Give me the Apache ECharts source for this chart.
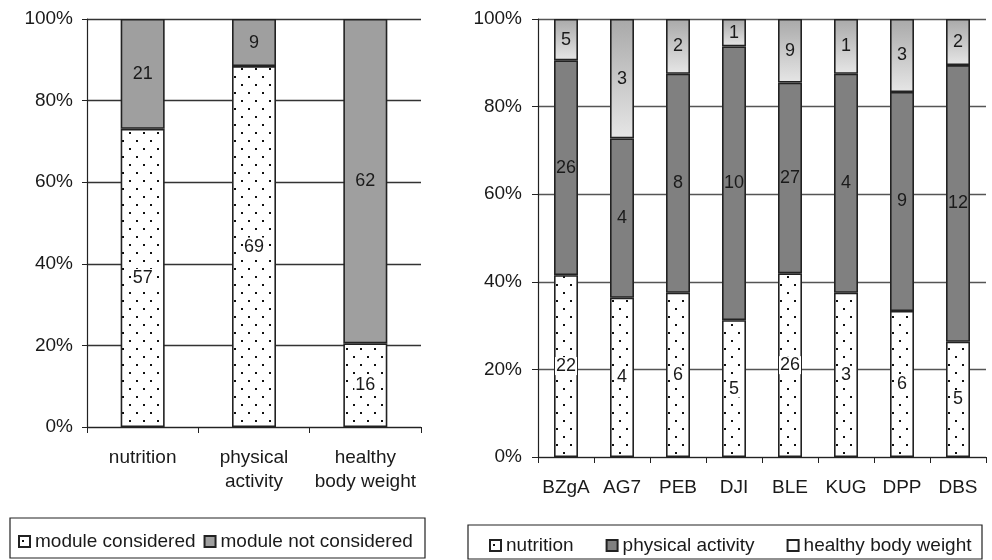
<!DOCTYPE html>
<html>
<head>
<meta charset="utf-8">
<script src="https://cdn.jsdelivr.net/npm/echarts@6/dist/echarts.min.js"></script>
<style>
html,body{margin:0;padding:0;background:#fff;}
#chart{width:992px;height:560px;}
</style>
</head>
<body>
<div id="chart"></div>
<script>
// ---- data ----
const leftCategories = ['nutrition', 'physical\nactivity', 'healthy\nbody weight'];
const moduleConsidered = [57, 69, 16];
const moduleNotConsidered = [21, 9, 62];

const rightCategories = ['BZgA', 'AG7', 'PEB', 'DJI', 'BLE', 'KUG', 'DPP', 'DBS'];
const nutrition = [22, 4, 6, 5, 26, 3, 6, 5];
const physicalActivity = [26, 4, 8, 10, 27, 4, 9, 12];
const healthyBodyWeight = [5, 3, 2, 1, 9, 1, 3, 2];

const yTicks = [0, 20, 40, 60, 80, 100];

// ---- helpers ----
function toShares(groups) {
  return groups.map(g => g.map((c, i) => {
    let total = 0;
    groups.forEach(gg => total += gg[i]);
    return { value: c / total * 100, count: c };
  }));
}

function dotPattern() {
  const c = document.createElement('canvas');
  c.width = 14; c.height = 16;
  const ctx = c.getContext('2d');
  ctx.fillStyle = '#ffffff';
  ctx.fillRect(0, 0, 14, 16);
  ctx.fillStyle = '#111111';
  ctx.fillRect(3, 4, 2, 2);
  ctx.fillRect(10, 12, 2, 2);
  return c;
}
const dots = { image: dotPattern(), repeat: 'repeat' };

const leftShares = toShares([moduleConsidered, moduleNotConsidered]);
const rightShares = toShares([nutrition, physicalActivity, healthyBodyWeight]);

const FONT = 'Liberation Sans, Arial, sans-serif';
const TXT = '#1a1a1a';

const border = { borderColor: '#222', borderWidth: 1.6 };
const lbl = {
  show: true, position: 'inside', color: TXT, fontSize: 18, fontFamily: FONT,
  formatter: p => p.data.count
};
const lblWhite = Object.assign({}, lbl, { backgroundColor: '#fff', padding: [0, 1] });

const healthyGrad = {
  type: 'linear', x: 0, y: 0, x2: 0, y2: 1,
  colorStops: [{ offset: 0, color: '#a9a9a9' }, { offset: 1, color: '#e6e6e6' }]
};

function yAxis(gridIndex, tickLen, margin, gridColor) {
  return {
    type: 'value', gridIndex, min: 0, max: 100, interval: 20,
    axisLine: { show: true, lineStyle: { color: '#222', width: 1.2 } },
    axisTick: { show: true, length: tickLen, lineStyle: { color: '#222' } },
    axisLabel: { formatter: '{value}%', fontSize: 19, fontFamily: FONT, color: TXT, margin },
    splitLine: { show: true, lineStyle: { color: gridColor, width: 1.3 } }
  };
}
function xAxis(gridIndex, data) {
  return {
    type: 'category', gridIndex, data,
    axisLine: { show: true, lineStyle: { color: '#222', width: 1.2 } },
    axisTick: { show: true, length: 6, lineStyle: { color: '#222' } },
    axisLabel: { fontSize: 19, fontFamily: FONT, color: TXT, margin: 19, lineHeight: 24, interval: 0 }
  };
}

const chart = echarts.init(document.getElementById('chart'));
chart.setOption({
  animation: false,
  backgroundColor: '#fff',
  grid: [
    { left: 87, top: 19, width: 334, height: 408 },
    { left: 538, top: 19, width: 448, height: 438 }
  ],
  xAxis: [xAxis(0, leftCategories), xAxis(1, rightCategories)],
  yAxis: [yAxis(0, 5, 14, '#333'), yAxis(1, 6, 16, '#555')],
  graphic: [
    { type: 'rect', shape: { x: 10, y: 518, width: 415, height: 40 }, style: { fill: 'none', stroke: '#222', lineWidth: 1.2 } },
    { type: 'rect', shape: { x: 468, y: 525, width: 514, height: 34 }, style: { fill: 'none', stroke: '#222', lineWidth: 1.2 } }
  ],
  legend: [
    {
      data: ['module considered', 'module not considered'],
      icon: 'rect',
      left: 13, top: 527, itemWidth: 11, itemHeight: 11, itemGap: 8,
      textStyle: { fontSize: 19, fontFamily: FONT, color: TXT }
    },
    {
      data: ['nutrition', 'physical activity', { name: 'healthy body weight', itemStyle: { color: '#ffffff' } }],
      icon: 'rect',
      left: 484, top: 531, itemWidth: 11, itemHeight: 11, itemGap: 32,
      textStyle: { fontSize: 19, fontFamily: FONT, color: TXT }
    }
  ],
  series: [
    {
      name: 'module considered', type: 'bar', stack: 'L', xAxisIndex: 0, yAxisIndex: 0,
      barWidth: 44, data: leftShares[0],
      itemStyle: Object.assign({ color: dots }, border), label: lblWhite
    },
    {
      name: 'module not considered', type: 'bar', stack: 'L', xAxisIndex: 0, yAxisIndex: 0,
      barWidth: 44, data: leftShares[1],
      itemStyle: Object.assign({ color: '#9f9f9f' }, border), label: lbl
    },
    {
      name: 'nutrition', type: 'bar', stack: 'R', xAxisIndex: 1, yAxisIndex: 1,
      barWidth: 24, data: rightShares[0],
      itemStyle: Object.assign({ color: dots }, border), label: lblWhite
    },
    {
      name: 'physical activity', type: 'bar', stack: 'R', xAxisIndex: 1, yAxisIndex: 1,
      barWidth: 24, data: rightShares[1],
      itemStyle: Object.assign({ color: '#808080' }, border), label: lbl
    },
    {
      name: 'healthy body weight', type: 'bar', stack: 'R', xAxisIndex: 1, yAxisIndex: 1,
      barWidth: 24, data: rightShares[2],
      itemStyle: Object.assign({ color: healthyGrad }, border), label: lbl
    }
  ]
});
</script>
</body>
</html>
